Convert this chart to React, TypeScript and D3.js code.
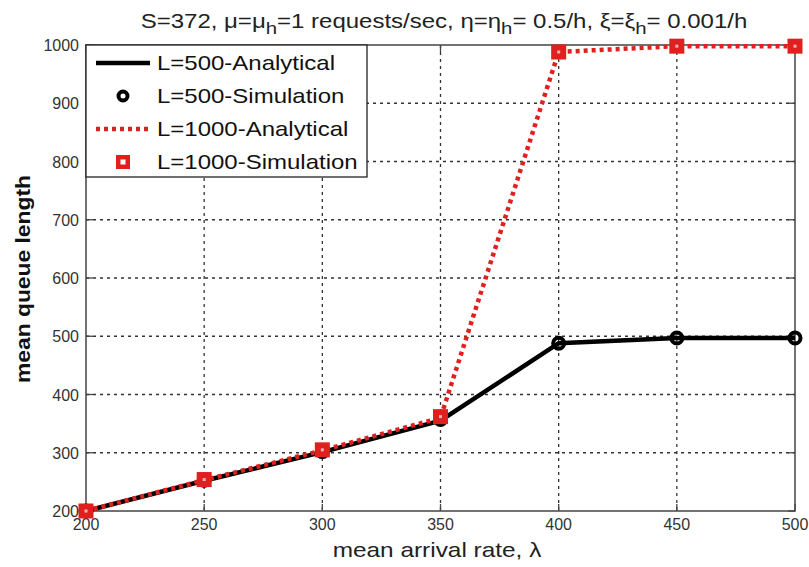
import React from "react";
import * as d3 from "d3";

const arrivalRates = [200, 250, 300, 350, 400, 450, 500];
const l500Analytical = [200, 252, 301, 355, 488, 497, 497];
const l500Simulation = [200, 253, 302, 357, 488, 497, 497];
const l1000Analytical = [200, 253, 304, 360, 988, 998, 998];
const l1000Simulation = [200, 254, 305, 362, 988, 998, 998];
const xTicks = [200, 250, 300, 350, 400, 450, 500];
const yTicks = [200, 300, 400, 500, 600, 700, 800, 900, 1000];
const legendLabels = ["L=500-Analytical", "L=500-Simulation", "L=1000-Analytical", "L=1000-Simulation"];

const W = 809, H = 567;
const M = { left: 86, right: 795, top: 45, bottom: 511 };
const RED = "#e0201e";
const FONT = "'Liberation Sans', Arial, Helvetica, sans-serif";

export default function App() {
  const x = d3.scaleLinear().domain([200, 500]).range([M.left, M.right]);
  const y = d3.scaleLinear().domain([200, 1000]).range([M.bottom, M.top]);
  const line = d3.line<number>().x((_, i) => x(arrivalRates[i])).y((d) => y(d));

  return (
    <svg width={W} height={H} style={{ position: "absolute", left: 0, top: 0, background: "#fff" }} fontFamily={FONT}>
      <rect x={0} y={0} width={W} height={H} fill="#fff" />
      {/* grid */}
      {xTicks.slice(1, -1).map((t) => (
        <line key={"gx" + t} x1={x(t)} x2={x(t)} y1={M.top} y2={M.bottom} stroke="#333" strokeWidth={1.3} strokeDasharray="3,4" />
      ))}
      {yTicks.slice(1, -1).map((t) => (
        <line key={"gy" + t} x1={M.left} x2={M.right} y1={y(t)} y2={y(t)} stroke="#333" strokeWidth={1.3} strokeDasharray="3,4" />
      ))}
      {/* axes box */}
      <rect x={M.left} y={M.top} width={M.right - M.left} height={M.bottom - M.top} fill="none" stroke="#444" strokeWidth={1.5} />
      {/* ticks */}
      {xTicks.map((t) => (
        <g key={"tx" + t}>
          <line x1={x(t)} x2={x(t)} y1={M.bottom} y2={M.bottom - 7} stroke="#444" strokeWidth={1.3} />
          <line x1={x(t)} x2={x(t)} y1={M.top} y2={M.top + 7} stroke="#444" strokeWidth={1.3} />
          <text x={x(t)} y={M.bottom + 19} textAnchor="middle" fontSize={16} fill="#333">{t}</text>
        </g>
      ))}
      {yTicks.map((t) => (
        <g key={"ty" + t}>
          <line x1={M.left} x2={M.left + 7} y1={y(t)} y2={y(t)} stroke="#444" strokeWidth={1.3} />
          <line x1={M.right} x2={M.right - 7} y1={y(t)} y2={y(t)} stroke="#444" strokeWidth={1.3} />
          <text x={M.left - 7} y={y(t) + 6} textAnchor="end" fontSize={16} fill="#333">{t}</text>
        </g>
      ))}
      {/* series */}
      <path d={line(l500Analytical) || ""} fill="none" stroke="#000" strokeWidth={4.5} />
      {l500Simulation.map((v, i) => (
        <circle key={"c" + i} cx={x(arrivalRates[i])} cy={y(v)} r={5.5} fill="none" stroke="#000" strokeWidth={4} />
      ))}
      <path d={line(l1000Analytical) || ""} fill="none" stroke={RED} strokeWidth={4.5} strokeDasharray="4,4" />
      {l1000Simulation.map((v, i) => (
        <g key={"s" + i}>
          <rect x={x(arrivalRates[i]) - 7.5} y={y(v) - 7.5} width={15} height={15} fill={RED} />
          <rect x={x(arrivalRates[i]) - 1.5} y={y(v) - 1.5} width={3} height={3} fill="#f4b0b0" />
        </g>
      ))}
      {/* legend */}
      <rect x={M.left} y={M.top} width={281} height={132} fill="#fff" stroke="#222" strokeWidth={1.3} />
      {legendLabels.map((lab, i) => {
        const ly = 63 + i * 33;
        return (
          <g key={lab}>
            {i === 0 && <line x1={96} x2={150} y1={ly} y2={ly} stroke="#000" strokeWidth={4.5} />}
            {i === 1 && <circle cx={123} cy={ly} r={4.5} fill="none" stroke="#000" strokeWidth={4} />}
            {i === 2 && <line x1={96} x2={150} y1={ly} y2={ly} stroke={RED} strokeWidth={4.5} strokeDasharray="4,4" />}
            {i === 3 && (
              <g>
                <rect x={116} y={ly - 7} width={14} height={14} fill={RED} />
                <rect x={120.5} y={ly - 2.5} width={5} height={5} fill="#fff" />
              </g>
            )}
            <text transform={`translate(157,${ly + 7}) scale(1.2,1)`} fontSize={20} fill="#111">{lab}</text>
          </g>
        );
      })}
      {/* title */}
      <text transform="translate(444,28) scale(1.2,1)" textAnchor="middle" fontSize={20} fill="#222">
        S=372, μ=μ<tspan dy={6} fontSize={17}>h</tspan><tspan dy={-6}>=1 requests/sec, η=η</tspan>
        <tspan dy={6} fontSize={17}>h</tspan><tspan dy={-6}>= 0.5/h, ξ=ξ</tspan>
        <tspan dy={6} fontSize={17}>h</tspan><tspan dy={-6}>= 0.001/h</tspan>
      </text>
      {/* axis labels */}
      <text transform="translate(437,557) scale(1.22,1)" textAnchor="middle" fontSize={20} fill="#222">mean arrival rate, λ</text>
      <text transform={`translate(30,279) rotate(-90)`} textAnchor="middle" fontSize={20} fill="#111" fontWeight="bold" textLength={208} lengthAdjust="spacingAndGlyphs">mean queue length</text>
    </svg>
  );
}
